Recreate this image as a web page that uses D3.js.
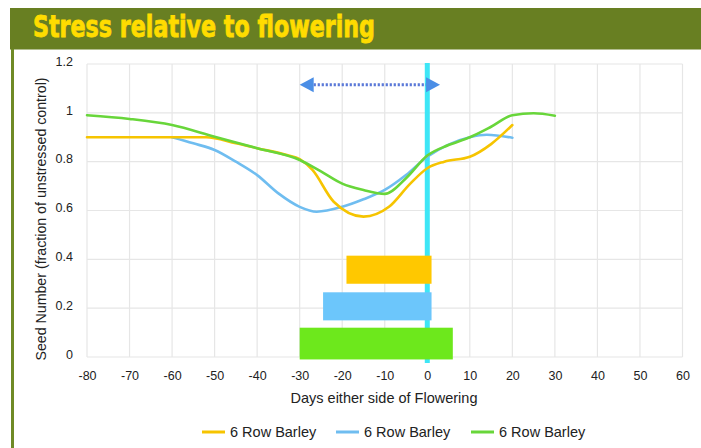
<!DOCTYPE html>
<html><head><meta charset="utf-8">
<script src="https://cdn.jsdelivr.net/npm/d3@7"></script>
<style>html,body{margin:0;padding:0;background:#fff;}svg{display:block;}</style>
</head><body>
<svg id="c" width="701" height="448"></svg>
<script>
// ---- data ----
const title = "Stress relative to flowering";
const xTicks = [-80,-70,-60,-50,-40,-30,-20,-10,0,10,20,30,40,50,60];
const yTicks = [0,0.2,0.4,0.6,0.8,1,1.2];
const yTickLabels = ["0","0.2","0.4","0.6","0.8","1","1.2"];
const seriesNames = ["6 Row Barley","6 Row Barley","6 Row Barley"];
const yellowDays = [-80,-70,-60,-52,-45,-40,-33,-30,-27,-22,-15,-9,-4,0,4,10,15,20];
const yellowVals = [0.90,0.90,0.90,0.90,0.875,0.855,0.827,0.81,0.766,0.636,0.575,0.615,0.71,0.773,0.80,0.82,0.872,0.95];
const blueDays = [-60,-55,-50,-45,-40,-35,-30,-26,-20,-15,-10,-5,0,5,10,14,20];
const blueVals = [0.90,0.875,0.848,0.80,0.745,0.67,0.615,0.595,0.615,0.646,0.684,0.745,0.82,0.87,0.90,0.91,0.898];
const greenDays = [-80,-70,-60,-50,-40,-30,-25,-20,-15,-10,-5,0,5,10,15,20,25,30];
const greenVals = [0.99,0.975,0.95,0.902,0.855,0.807,0.76,0.71,0.684,0.668,0.732,0.825,0.868,0.90,0.943,0.99,0.998,0.988];
const barStart = [-19,-24.5,-30];
const barEnd = [1,1,6];
const barLow = [0.30,0.15,-0.01];
const barHigh = [0.415,0.265,0.12];
const flowerDay = 0;
const arrowFrom = -30, arrowTo = 3, arrowLevel = 1.115;
const xTitle = "Days either side of Flowering";
const yTitle = "Seed Number (fraction of unstressed control)";

const lineColors = ["#f6c400","#6fbdf0","#68d63a"];
const barColors = ["#ffc800","#6cc6fb","#6de81c"];

const svg = d3.select("#c");
// banner
svg.append("rect").attr("x",10).attr("y",8).attr("width",691).attr("height",41.5).attr("fill","#687f22");
svg.append("rect").attr("x",11).attr("y",49).attr("width",3).attr("height",399).attr("fill","#6f8a26");
svg.append("text").attr("x",33).attr("y",36.5).text(title)
  .attr("font-family","'Liberation Sans Narrow','DejaVu Sans Condensed',Arial,sans-serif")
  .attr("font-weight","bold").attr("font-size",30).attr("fill","#ffdc00")
  .attr("stroke","#ffdc00").attr("stroke-width",0.8)
  .attr("textLength",342).attr("lengthAdjust","spacingAndGlyphs");

const x = d3.scaleLinear().domain([-80,60]).range([87,682.5]);
const y = d3.scaleLinear().domain([0,1.2]).range([357,64]);

const font = "'Liberation Sans',Arial,Helvetica,sans-serif";
// grid
const g = svg.append("g");
g.selectAll(".vg").data(xTicks).join("line")
  .attr("x1",d=>x(d)).attr("x2",d=>x(d)).attr("y1",y(1.2)).attr("y2",y(0))
  .attr("stroke","#e6e6e6").attr("stroke-width",1.2);
g.selectAll(".hg").data(yTicks).join("line")
  .attr("x1",x(-80)).attr("x2",x(60)).attr("y1",d=>y(d)).attr("y2",d=>y(d))
  .attr("stroke","#e6e6e6").attr("stroke-width",1.2);

// axes via d3 axis
const xAxis = d3.axisBottom(x).tickValues(xTicks).tickFormat(d=>String(d)).tickSize(0).tickPadding(14);
const xa = svg.append("g").attr("transform",`translate(0,${y(0)})`).call(xAxis);
xa.select(".domain").remove();
xa.selectAll("text").attr("font-family",font).attr("font-size",12.5).attr("fill","#222");
const yAxis = d3.axisLeft(y).tickValues(yTicks).tickFormat((d,i)=>yTickLabels[i]).tickSize(0).tickPadding(14);
const ya = svg.append("g").attr("transform",`translate(${x(-80)},0)`).call(yAxis);
ya.select(".domain").remove();
ya.selectAll("text").attr("font-family",font).attr("font-size",12.5).attr("fill","#222").attr("dy","0.1em");

// cyan flowering line
svg.append("rect").attr("x",x(flowerDay)-2.5).attr("y",y(1.2)-1).attr("width",5).attr("height",y(0)-y(1.2)+7)
  .attr("fill","#3ee6f6");

// bars
svg.selectAll(".bar").data(barStart).join("rect")
  .attr("x",(d,i)=>x(d)).attr("width",(d,i)=>x(barEnd[i])-x(d))
  .attr("y",(d,i)=>y(barHigh[i])).attr("height",(d,i)=>y(barLow[i])-y(barHigh[i]))
  .attr("fill",(d,i)=>barColors[i]);

// lines
const line = d3.line().x(d=>x(d[0])).y(d=>y(d[1])).curve(d3.curveMonotoneX);
const series = [
  d3.zip(yellowDays,yellowVals),
  d3.zip(blueDays,blueVals),
  d3.zip(greenDays,greenVals)
];
[1,0,2].forEach(i=>{
  svg.append("path").attr("d",line(series[i])).attr("fill","none")
    .attr("stroke",lineColors[i]).attr("stroke-width",2.6).attr("stroke-linejoin","round").attr("stroke-linecap","round");
});

// dotted double arrow
const ay = y(arrowLevel);
const arrowColor = "#4b8ee6";
svg.append("line").attr("x1",x(arrowFrom)+14).attr("x2",x(arrowTo)-14).attr("y1",ay).attr("y2",ay)
  .attr("stroke","#5a78d8").attr("stroke-width",3.2).attr("stroke-dasharray","2.2,1.8");
svg.append("path").attr("d",`M${x(arrowFrom)},${ay} L${x(arrowFrom)+14},${ay-7.5} L${x(arrowFrom)+14},${ay+7.5}Z`).attr("fill",arrowColor);
svg.append("path").attr("d",`M${x(arrowTo)},${ay} L${x(arrowTo)-14},${ay-7.5} L${x(arrowTo)-14},${ay+7.5}Z`).attr("fill",arrowColor);

// titles
svg.append("text").attr("x",384).attr("y",403).attr("text-anchor","middle")
  .attr("font-family",font).attr("font-size",14.5).attr("fill","#222").text(xTitle);
svg.append("text").attr("transform","translate(46,219) rotate(-90)").attr("text-anchor","middle")
  .attr("font-family",font).attr("font-size",14.2).attr("fill","#222").text(yTitle);

// legend
const legX = [202,336,471];
const leg = svg.selectAll(".leg").data(seriesNames).join("g").attr("transform",(d,i)=>`translate(${legX[i]},432)`);
leg.append("line").attr("x1",0).attr("x2",23).attr("y1",0).attr("y2",0).attr("stroke",(d,i)=>lineColors[i]).attr("stroke-width",3);
leg.append("text").attr("x",28).attr("y",5).attr("font-family",font).attr("font-size",14.5).attr("fill","#222").text(d=>d);
</script>
</body></html>
